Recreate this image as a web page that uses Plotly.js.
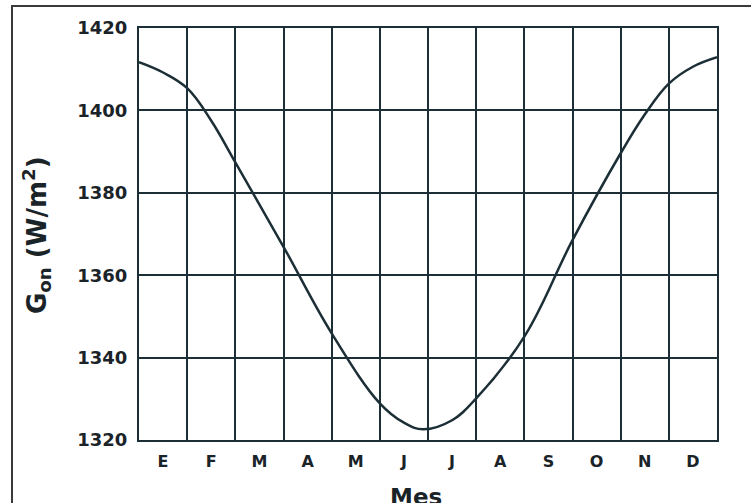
<!DOCTYPE html>
<html>
<head>
<meta charset="utf-8">
<script src="https://cdn.plot.ly/plotly-3.0.1.min.js"></script>
<style>
  html, body { margin: 0; padding: 0; background: #ffffff; }
  #wrap { position: relative; width: 751px; height: 503px; overflow: hidden; }
  #chart { width: 751px; height: 503px; }
  #frame { position: absolute; left: 11px; top: 5px; width: 800px; height: 600px;
           border-left: 2px solid #3a3a3a; border-top: 2px solid #3a3a3a; pointer-events: none; }
</style>
</head>
<body>
<div id="wrap">
  <div id="chart"></div>
  <div id="frame"></div>
</div>
<script>
// Month position (0 = start of January, 12 = end of December)
const monthPos = [0, 0.5, 1, 1.5, 2, 3, 4, 5, 5.5, 5.9, 6.5, 7, 8, 9, 10, 10.5, 11, 11.5, 12];
// Extraterrestrial irradiance G_on (W/m2)
const gon = [1411.7, 1409.2, 1405.4, 1397.5, 1387.4, 1366.9, 1345.9, 1328.9, 1324.2, 1322.6, 1324.8, 1330.1, 1345.1, 1368.5, 1389.6, 1399, 1406.5, 1410.6, 1412.9];
// Month labels
const monthLabels = ['E', 'F', 'M', 'A', 'M', 'J', 'J', 'A', 'S', 'O', 'N', 'D'];
const monthCenters = [0.5, 1.5, 2.5, 3.5, 4.5, 5.5, 6.5, 7.5, 8.5, 9.5, 10.5, 11.5];
const monthEdges = [0, 1, 2, 3, 4, 5, 6, 7, 8, 9, 10, 11, 12];
const yTicks = [1320, 1340, 1360, 1380, 1400, 1420];

const ink = '#1c2f36';

const trace = {
  x: monthPos,
  y: gon,
  type: 'scatter',
  mode: 'lines',
  line: { color: ink, width: 2.5, shape: 'spline', smoothing: 1.1 },
  hoverinfo: 'skip'
};

const layout = {
  width: 751,
  height: 503,
  margin: { l: 139, r: 34, t: 28, b: 63 },
  paper_bgcolor: '#ffffff',
  plot_bgcolor: '#ffffff',
  showlegend: false,
  xaxis: {
    range: [0, 12],
    tickmode: 'array',
    tickvals: monthCenters,
    ticktext: monthLabels,
    ticks: '',
    showgrid: false,
    zeroline: false,
    showline: true,
    mirror: true,
    linecolor: ink,
    linewidth: 2,
    ticklabelstandoff: 6,
    tickfont: { family: 'DejaVu Sans', size: 16, color: '#1a2328', weight: 'bold' },
    minor: {
      tickmode: 'array',
      tickvals: monthEdges,
      ticks: '',
      showgrid: true,
      gridcolor: ink,
      gridwidth: 2
    }
  },
  yaxis: {
    range: [1320, 1420],
    tickmode: 'array',
    tickvals: yTicks,
    ticks: '',
    showgrid: true,
    gridcolor: ink,
    gridwidth: 2,
    zeroline: false,
    showline: true,
    mirror: true,
    linecolor: ink,
    linewidth: 2,
    ticklabelstandoff: 6,
    tickfont: { family: 'DejaVu Sans', size: 18, color: '#1a2328', weight: 'bold' }
  },
  annotations: [
    {
      text: 'Mes',
      xref: 'paper', yref: 'paper',
      x: (416 - 139) / 578, y: (440 - 482) / 412,
      xanchor: 'center', yanchor: 'top',
      showarrow: false,
      font: { family: 'DejaVu Sans', size: 23, color: '#1a2328', weight: 'bold' }
    },
    {
      text: 'G<sub>on</sub> (W/m<sup>2</sup>)',
      xref: 'paper', yref: 'paper',
      x: (36 - 139) / 578, y: (440 - 235) / 412,
      xanchor: 'center', yanchor: 'middle',
      textangle: -90,
      showarrow: false,
      font: { family: 'DejaVu Sans', size: 26, color: '#1a2328', weight: 'bold' }
    }
  ]
};

Plotly.newPlot('chart', [trace], layout, { displayModeBar: false, staticPlot: true });
</script>
</body>
</html>
